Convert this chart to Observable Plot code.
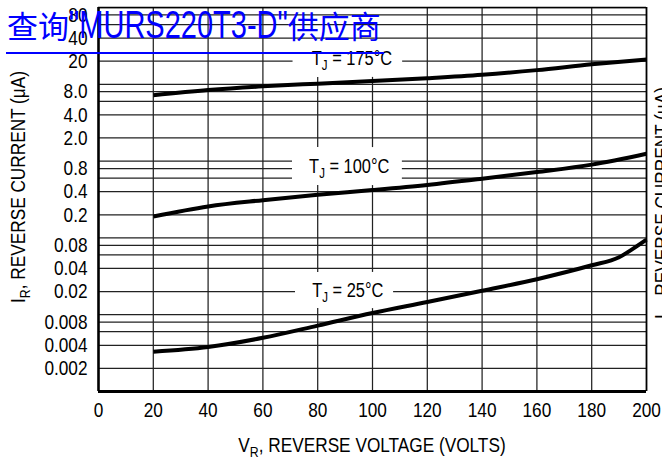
<!DOCTYPE html>
<html>
<head>
<meta charset="utf-8">
<script src="https://cdn.jsdelivr.net/npm/d3@7"></script>
<script src="https://cdn.jsdelivr.net/npm/@observablehq/plot@0.6"></script>
<style>
  html, body { margin: 0; padding: 0; background: white; overflow: hidden; }
  #wrap { position: relative; width: 662px; height: 464px; }
  #wm { position: absolute; left: 6px; top: 9px; color: #0000ff; white-space: nowrap;
        line-height: 1; border-bottom: 2px solid #0000ff; padding-bottom: 9px; padding-right: 3px; padding-left: 1px; }
  #wm .cjk { font-family: "Noto Sans CJK SC", sans-serif; font-size: 31px; }
  #wm .lat { display: inline-block; font-family: "Liberation Sans", Arial, sans-serif; font-size: 29px;
             transform: scaleY(1.32); transform-origin: 50% 78%; }
</style>
</head>
<body>
<div id="wrap">
  <div id="chart"></div>
  <div id="wm"><span class="cjk">查询</span><span class="lat">"MURS220T3-D"</span><span class="cjk">供应商</span></div>
</div>
<script>
// ---- data ----
const xTicks = [0, 20, 40, 60, 80, 100, 120, 140, 160, 180, 200];
const yTickValues = [80, 40, 20, 8, 4, 2, 0.8, 0.4, 0.2, 0.08, 0.04, 0.02, 0.008, 0.004, 0.002];
const yTickLabels = ["80", "40", "20", "8.0", "4.0", "2.0", "0.8", "0.4", "0.2", "0.08", "0.04", "0.02", "0.008", "0.004", "0.002"];
const hGrid = [0.001, 0.002, 0.004, 0.006, 0.008, 0.01, 0.02, 0.04, 0.06, 0.08, 0.1, 0.2, 0.4, 0.6, 0.8,
               1, 2, 4, 6, 8, 10, 20, 40, 60, 80, 100];
const vGridFull = [20, 40, 60, 120, 140, 160, 180];
const vGridSplit = [80, 100];
const splitLo = [1.5, 0.0355, 0.001];
const splitHi = [12.3, 0.48, 0.012];

const voltage = [20, 40, 60, 80, 100, 120, 140, 160, 180, 200];
const i175 = [7.2, 8.4, 9.4, 10.2, 11.0, 12.0, 13.3, 15.3, 18.2, 21.0];
const i100 = [0.19, 0.257, 0.31, 0.365, 0.42, 0.49, 0.59, 0.72, 0.9, 1.25];
const voltage25 = [20, 40, 60, 80, 100, 120, 140, 160, 180, 190, 195, 200];
const i25 = [0.0033, 0.0038, 0.0050, 0.0072, 0.0105, 0.0146, 0.0205, 0.029, 0.044, 0.056, 0.072, 0.095];

const labelText = ["T_J = 175°C", "T_J = 100°C", "T_J = 25°C"];
const labelX = [92.5, 91.5, 91];
const labelY = [21.7, 0.85, 0.0207];
const boxX1 = [71, 70.8, 71.9];
const boxX2 = [111, 110.9, 107.7];
const boxY1 = [14.3, 0.48, 0.012];
const boxY2 = [27.5, 1.5, 0.0355];

const xLabel = "V_R, REVERSE VOLTAGE (VOLTS)";
const yLabel = "I_R, REVERSE CURRENT (μA)";

// ---- tables ----
const s175 = voltage.map((v, k) => ({v, i: i175[k]}));
const s100 = voltage.map((v, k) => ({v, i: i100[k]}));
const s25 = voltage25.map((v, k) => ({v, i: i25[k]}));
const labels = labelText.map((t, k) => ({t, x: labelX[k], y: labelY[k]}));
const boxes = boxX1.map((x1, k) => ({x1, x2: boxX2[k], y1: boxY1[k], y2: boxY2[k]}));
const segs = vGridSplit.flatMap(v => splitLo.map((lo, k) => ({v, lo, hi: splitHi[k]})));
const yTicks = yTickValues.map((v, k) => ({v, t: yTickLabels[k]}));

const font = '"Liberation Sans", Arial, sans-serif';
const gridColor = "#222";

const chart = Plot.plot({
  width: 662,
  height: 464,
  marginLeft: 98,
  marginRight: 16,
  marginTop: 7,
  marginBottom: 73,
  style: {background: "white", color: "black", fontFamily: font, fontSize: "21px"},
  x: {domain: [0, 200]},
  y: {type: "log", domain: [0.001, 100], axis: null},
  marks: [
    Plot.ruleY(hGrid, {stroke: gridColor, strokeWidth: 1.25}),
    Plot.rect(boxes, {x1: "x1", x2: "x2", y1: "y1", y2: "y2", fill: "white"}),
    Plot.ruleX(vGridFull, {stroke: gridColor, strokeWidth: 1.25}),
    Plot.ruleX(segs, {x: "v", y1: "lo", y2: "hi", stroke: gridColor, strokeWidth: 1.25}),
    Plot.ruleX([0], {stroke: "black", strokeWidth: 2.6}),
    Plot.ruleX([200], {stroke: "black", strokeWidth: 1.8}),
    Plot.ruleY([100], {stroke: "black", strokeWidth: 1.6}),
    Plot.ruleY([0.001], {stroke: "black", strokeWidth: 2.8}),
    Plot.line(s175, {x: "v", y: "i", stroke: "black", strokeWidth: 4, curve: "monotone-x", strokeLinecap: "butt"}),
    Plot.line(s100, {x: "v", y: "i", stroke: "black", strokeWidth: 4, curve: "monotone-x", strokeLinecap: "butt"}),
    Plot.line(s25, {x: "v", y: "i", stroke: "black", strokeWidth: 4, curve: "monotone-x", strokeLinecap: "butt"}),
    Plot.text(labels, {x: "x", y: "y", text: "t", fontSize: 20, fill: "black", textAnchor: "middle", className: "tj"}),
    Plot.axisX({ticks: xTicks, tickSize: 0, tickPadding: 11, label: null, tickFormat: d => String(d)}),
    Plot.text(yTicks, {y: "v", text: "t", frameAnchor: "left", textAnchor: "end", dx: -11, fontSize: 21, fill: "black"})
  ]
});

document.getElementById("chart").appendChild(chart);

// subscript helper: "A_B rest" -> A, sub B, rest
function subscriptify(textEl, str, subSize, shift) {
  const m = str.match(/^(.)_(.)(.*)$/);
  const sel = d3.select(textEl);
  sel.text(null);
  if (!m) { sel.text(str); return; }
  sel.append("tspan").text(m[1]);
  sel.append("tspan").attr("dy", shift).attr("font-size", subSize).text(m[2]);
  sel.append("tspan").attr("dy", -shift).text(m[3]);
}

const svg = d3.select(chart);
svg.selectAll(".tj text").each(function() {
  subscriptify(this, this.textContent, 14, 5);
});

// axis titles
const xt = svg.append("text").attr("x", 372).attr("y", 452).attr("text-anchor", "middle")
  .attr("font-size", 21).attr("fill", "black").attr("font-family", font);
subscriptify(xt.node(), xLabel, 15, 5);

const yt = svg.append("text").attr("transform", "translate(25,187) rotate(-90)").attr("text-anchor", "middle")
  .attr("font-size", 21).attr("fill", "black").attr("font-family", font);
subscriptify(yt.node(), yLabel, 15, 5);

const yr = svg.append("text").attr("transform", "translate(669,203) rotate(-90)").attr("text-anchor", "middle")
  .attr("font-size", 21).attr("fill", "black").attr("font-family", font);
subscriptify(yr.node(), yLabel, 15, 5);

// condense all chart text horizontally (narrow Helvetica look)
svg.selectAll("text").each(function() {
  const L = this.getComputedTextLength();
  if (L > 0) {
    this.setAttribute("textLength", (L * 0.82).toFixed(2));
    this.setAttribute("lengthAdjust", "spacingAndGlyphs");
  }
});
</script>
</body>
</html>
